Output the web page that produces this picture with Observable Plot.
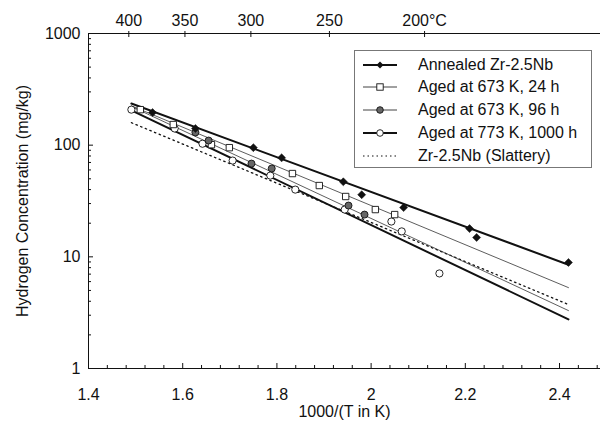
<!DOCTYPE html>
<html><head><meta charset="utf-8">
<script src="https://cdn.jsdelivr.net/npm/d3@7"></script>
<script src="https://cdn.jsdelivr.net/npm/@observablehq/plot@0.6"></script>
<style>
body{margin:0;background:#fff;font-family:"Liberation Sans",Arial,sans-serif;}
#wrap{position:relative;width:609px;height:430px;}
#legend{position:absolute;left:354px;top:50px;width:238px;height:118px;border:1px solid #777;background:#fff;box-sizing:border-box;}
.row{position:absolute;left:0;height:22px;display:flex;align-items:center;font-size:16px;color:#111;white-space:nowrap;}
.row svg{margin-left:8px;margin-right:21px;}
</style></head><body><div id="wrap"></div>
<script>
// Data
const annealedX = [1.536, 1.627, 1.750, 1.810, 1.941, 1.980, 2.069, 2.209, 2.224, 2.419];
const annealedY = [196, 141, 95, 77, 47, 36, 27.6, 17.9, 14.9, 8.9];
const aged24X = [1.510, 1.580, 1.661, 1.699, 1.833, 1.890, 1.946, 2.009, 2.050];
const aged24Y = [208, 153, 101, 95, 55.7, 43.5, 34.7, 26.5, 23.9];
const aged96X = [1.627, 1.655, 1.746, 1.789, 1.952, 1.986];
const aged96Y = [130, 110, 68.4, 61.8, 28.8, 23.9];
const aged1000X = [1.491, 1.583, 1.642, 1.706, 1.786, 1.839, 1.944, 2.043, 2.065, 2.145];
const aged1000Y = [208, 141, 103, 72.8, 53.4, 40.0, 26.5, 20.7, 16.9, 7.1];
// fitted lines (endpoints)
const fitX = [1.491, 2.419];
const fitAnnealed = [236, 8.5];
const fit24 = [225, 5.3];
const fit96 = [222, 3.3];
const fit1000 = [205, 2.75];
const fitSlattery = [159, 3.74];
// axes
const xTicks = [1.4, 1.6, 1.8, 2.0, 2.2, 2.4];
const xMinor = [1.44,1.48,1.52,1.56,1.64,1.68,1.72,1.76,1.84,1.88,1.92,1.96,2.04,2.08,2.12,2.16,2.24,2.28,2.32,2.36,2.44,2.48];
const yTicks = [1, 10, 100, 1000];
const yMinor = [2,3,4,5,6,7,8,9,20,30,40,50,60,70,80,90,200,300,400,500,600,700,800,900];
const tempC = [400, 350, 300, 250, 200];
const tempLabels = ["400", "350", "300", "250", "200°C"];
const tempX = tempC.map(c => 1000 / (c + 273.15));
const topLabel = new Map(tempX.map((x, i) => [x, tempLabels[i]]));

const legendItems = [
  {label: "Annealed Zr-2.5Nb", sym: "diamond", lw: 2},
  {label: "Aged at 673 K, 24 h", sym: "square", lw: 0.8},
  {label: "Aged at 673 K, 96 h", sym: "grey", lw: 0.8},
  {label: "Aged at 773 K, 1000 h", sym: "open", lw: 1.8},
  {label: "Zr-2.5Nb (Slattery)", sym: "none", lw: 1.2, dash: "1.5,3"}
];

const pts = (xs, ys) => xs.map((x, i) => ({x, y: ys[i]}));
const blank = () => "";
const ink = "#111";
const FS = 16;

const chart = Plot.plot({
  width: 609, height: 430,
  marginLeft: 88, marginRight: 9, marginTop: 33, marginBottom: 62,
  style: {fontFamily: "'Liberation Sans', Arial, sans-serif", fontSize: "16px", color: ink, background: "#fff"},
  x: {domain: [1.4, 2.487], label: null},
  y: {type: "log", domain: [1, 1000], label: null},
  marks: [
    // frame
    Plot.ruleY([1000], {stroke: ink, strokeWidth: 1}),
    Plot.ruleY([1], {stroke: ink, strokeWidth: 1}),
    Plot.ruleX([1.4], {stroke: ink, strokeWidth: 1}),
    // bottom axis
    Plot.axisX(xTicks, {anchor: "bottom", tickSize: 0, tickPadding: 20, fontSize: FS, tickFormat: d => String(+d.toFixed(1)), stroke: null, fill: ink}),
    Plot.axisX(xTicks, {anchor: "bottom", tickSize: -5, tickFormat: blank, stroke: ink}),
    Plot.axisX(xMinor, {anchor: "bottom", tickSize: -3, tickFormat: blank, stroke: ink}),
    // top axis
    Plot.axisX(tempX, {anchor: "top", tickSize: 3, tickPadding: 5, fontSize: FS, tickFormat: d => topLabel.get(d), stroke: ink, fill: ink}),
    Plot.axisX(tempX, {anchor: "top", tickSize: -3, tickFormat: blank, stroke: ink}),
    // left axis
    Plot.axisY(yTicks, {anchor: "left", tickSize: 0, tickPadding: 8, fontSize: FS, tickFormat: d => String(d), fill: ink}),
    Plot.axisY(yTicks, {anchor: "left", tickSize: -5, tickFormat: blank, stroke: ink}),
    Plot.axisY(yMinor, {anchor: "left", tickSize: -3, tickFormat: blank, stroke: ink}),
    // fitted lines
    Plot.line(pts(fitX, fitSlattery), {x: "x", y: "y", stroke: ink, strokeWidth: 1.3, strokeDasharray: "1.5,3.5"}),
    Plot.line(pts(fitX, fit24), {x: "x", y: "y", stroke: "#333", strokeWidth: 0.8}),
    Plot.line(pts(fitX, fit96), {x: "x", y: "y", stroke: "#333", strokeWidth: 0.8}),
    Plot.line(pts(fitX, fitAnnealed), {x: "x", y: "y", stroke: ink, strokeWidth: 2}),
    Plot.line(pts(fitX, fit1000), {x: "x", y: "y", stroke: ink, strokeWidth: 2}),
    // points
    Plot.dot(pts(aged1000X, aged1000Y), {x: "x", y: "y", r: 3.6, fill: "#fff", stroke: ink, strokeWidth: 0.9}),
    Plot.dot(pts(aged24X, aged24Y), {x: "x", y: "y", r: 3.6, symbol: "square", fill: "#fff", stroke: ink, strokeWidth: 0.9}),
    Plot.dot(pts(aged96X, aged96Y), {x: "x", y: "y", r: 3.5, fill: "#666", stroke: ink, strokeWidth: 0.9}),
    Plot.dot(pts(annealedX, annealedY), {x: "x", y: "y", r: 3.6, symbol: "diamond2", fill: ink, stroke: ink, strokeWidth: 0.5}),
    // axis titles
    Plot.text(["1000/(T in K)"], {frameAnchor: "bottom", lineAnchor: "middle", dy: 43, fontSize: FS, fill: ink}),
    Plot.text(["Hydrogen Concentration (mg/kg)"], {frameAnchor: "left", textAnchor: "middle", lineAnchor: "middle", dx: -66, rotate: -90, fontSize: FS, fill: ink})
  ]
});

const wrap = document.getElementById("wrap");
wrap.appendChild(chart);

// Legend inside the plot area
const legend = document.createElement("div");
legend.id = "legend";
const centers = [14, 36, 59, 82, 105];
legendItems.forEach((it, i) => {
  const row = document.createElement("div");
  row.className = "row";
  row.style.top = (centers[i] - 11) + "px";
  let marker = "";
  if (it.sym === "diamond") marker = `<path d="M17,3.5 L20.5,7 L17,10.5 L13.5,7 Z" fill="${ink}"/>`;
  if (it.sym === "square") marker = `<rect x="13.8" y="3.8" width="6.4" height="6.4" fill="#fff" stroke="${ink}" stroke-width="0.9"/>`;
  if (it.sym === "grey") marker = `<circle cx="17" cy="7" r="3.3" fill="#666" stroke="${ink}" stroke-width="0.9"/>`;
  if (it.sym === "open") marker = `<circle cx="17" cy="7" r="3.3" fill="#fff" stroke="${ink}" stroke-width="0.9"/>`;
  row.innerHTML = `<svg width="34" height="14" viewBox="0 0 34 14"><line x1="0" y1="7" x2="34" y2="7" stroke="${ink}" stroke-width="${it.lw}" ${it.dash ? `stroke-dasharray="${it.dash}"` : ""}/>${marker}</svg><span>${it.label}</span>`;
  legend.appendChild(row);
});
wrap.appendChild(legend);
</script>
</body></html>
